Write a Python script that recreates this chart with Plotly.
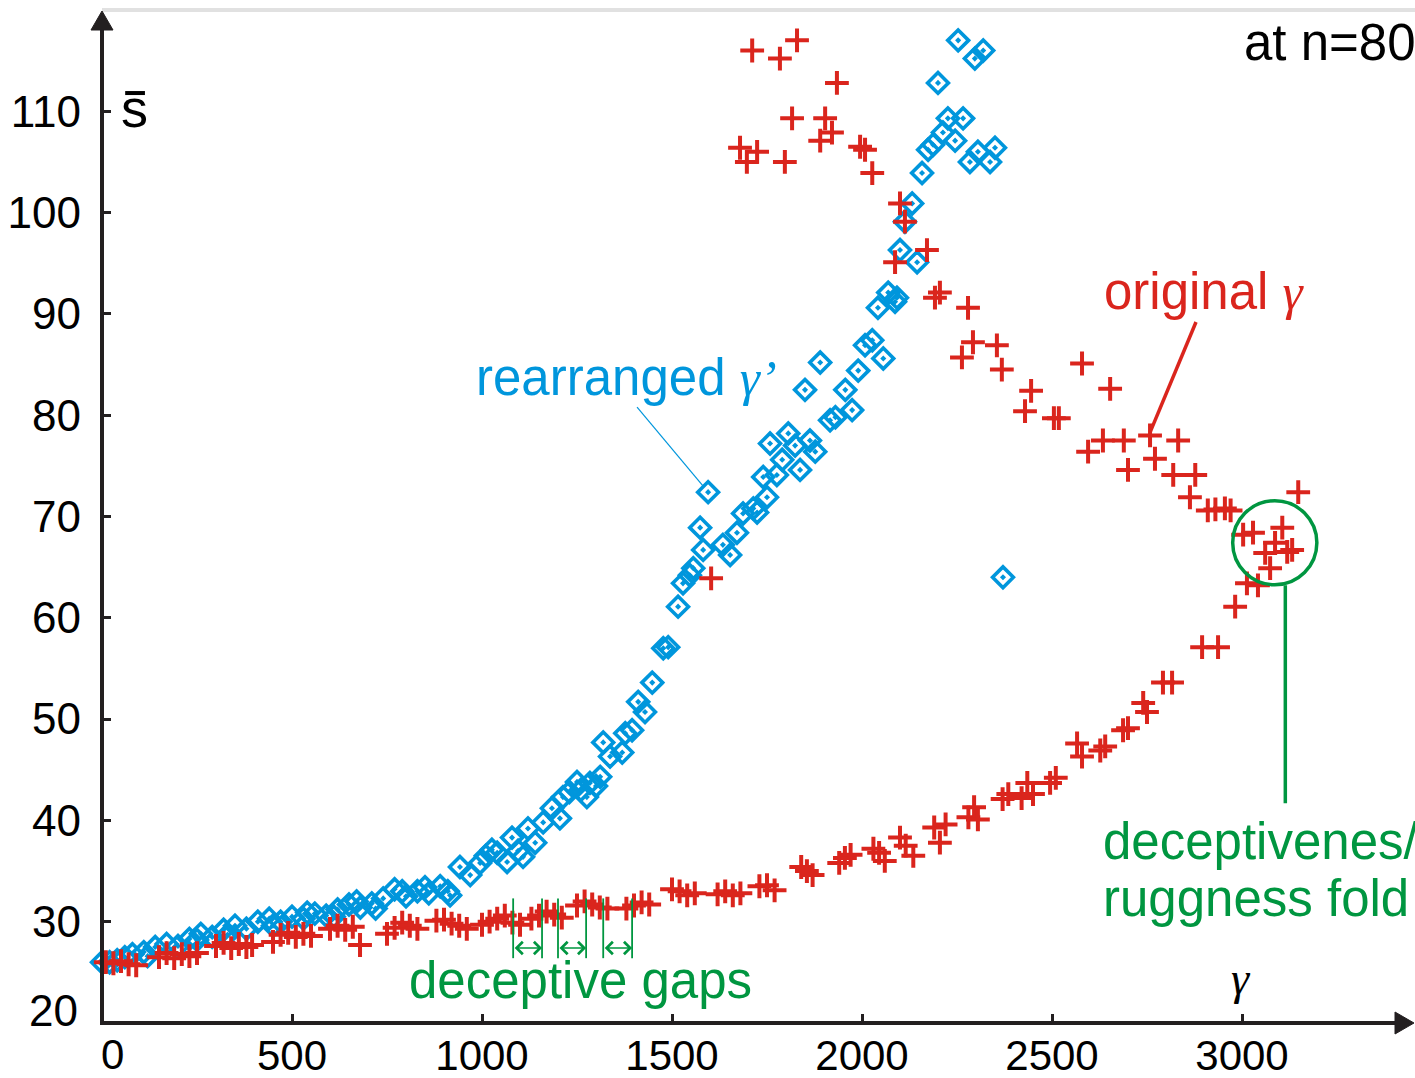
import plotly.graph_objects as go

# ---------------- data ----------------
blue_x = [0, 20, 40, 60, 80, 110, 120, 140, 170, 200, 230, 250, 260, 290, 320, 330, 350, 380, 410, 440, 450,
          470, 500, 530, 540, 560, 590, 610, 620, 650, 670, 680, 710, 720, 740, 770, 790, 800, 830, 850, 860,
          890, 910,
          916, 942, 969, 995, 1010, 1026, 1040, 1066, 1079, 1095, 1108, 1121, 1140, 1161, 1184, 1205, 1213,
          1230, 1250, 1260, 1276, 1284, 1300, 1311, 1319, 1337, 1369, 1377, 1395, 1411, 1429, 1448, 1477, 1490,
          1516, 1529, 1547, 1556, 1574, 1582, 1595, 1634, 1653, 1671, 1687, 1714, 1724, 1740, 1750, 1758,
          1776, 1790, 1806, 1824, 1837, 1850, 1863, 1877, 1890, 1916, 1930, 1956, 1974, 1990, 2008, 2027,
          2042, 2056, 2069, 2087, 2092, 2100, 2113, 2132, 2145, 2158, 2174, 2187, 2200, 2213, 2226, 2245,
          2253, 2266, 2284, 2297, 2305, 2319, 2337, 2350, 2371]
blue_y = [26.0, 26.0, 26.2, 26.5, 26.8, 27.0, 26.6, 27.5, 27.8, 27.6, 28.3, 28.2, 28.8, 28.5, 29.2, 28.7, 29.6, 29.3, 30.0, 30.3, 29.6,
          30.0, 30.5, 30.3, 30.9, 30.8, 30.6, 30.5, 31.2, 31.7, 32.0, 31.4, 31.8, 31.3, 32.3, 33.2, 33.0, 32.5, 33.0, 33.4, 32.8,
          33.5, 33.0,
          32.6, 35.4, 34.6, 35.8, 36.5, 37.1, 36.8, 35.9, 38.3, 37.0, 36.4, 39.2, 37.8, 39.8, 41.2, 40.2, 42.3,
          42.8, 43.8, 43.0, 42.3, 43.7, 43.4, 44.3, 47.7, 46.3, 46.7, 48.6, 48.9, 51.7, 50.7, 53.6, 57.0, 57.1,
          61.1, 63.4, 64.2, 64.9, 68.9, 66.7, 72.4, 67.2, 66.2, 68.4, 70.3, 70.8, 70.4, 73.9, 71.9, 77.2,
          74.1, 75.6, 78.2, 77.0, 74.6, 82.5, 77.5, 76.4, 85.2, 79.5, 79.8, 82.5, 80.5, 84.4, 86.9, 87.4,
          90.6, 85.6, 92.1, 91.2, 91.6, 96.3, 99.1, 100.9, 95.1, 103.9, 106.2, 106.7, 112.8, 107.9, 109.3, 107.1,
          117.0, 109.3, 105.0, 115.2, 106.0, 116.0, 105.0, 106.4, 64.0]

red_x = [10, 30, 50, 70, 90,
         150, 170, 190, 210, 230, 250,
         300, 320, 340, 360, 380, 395,
         450, 470, 490, 510, 530, 550,
         600, 620, 640, 660, 679,
         750, 770, 790, 810, 830,
         880, 900, 920, 940, 960,
         1000, 1020, 1040, 1060, 1080, 1100,
         1130, 1150, 1170, 1190, 1210,
         1250, 1270, 1290, 1310, 1330,
         1380, 1400, 1420, 1440,
         1500, 1520, 1540, 1560,
         1620, 1640, 1660, 1680,
         1730, 1750, 1770,
         1840, 1855, 1870,
         1940, 1955, 1970,
         2030, 2045, 2060,
         2100, 2115, 2135,
         2190, 2205, 2220,
         2280, 2295, 2305,
         2370, 2385,
         2420, 2435, 2450,
         2495, 2510,
         2566, 2579, 2627, 2640,
         2687, 2700,
         2740, 2750,
         2792, 2816,
         2895, 2937,
         2982,
         3013, 3042,
         3074,
         3061, 3087, 3119, 3132,
         3106,
         3003, 3029,
         3148,
         2910, 2930, 2955, 2970,
         2863, 2877, 2819,
         2832, 2771, 2758, 2700, 2689, 2653, 2634, 2595, 2579, 2505, 2518, 2429, 2445, 2368, 2355, 2263,
         2292, 2279, 2192, 2205, 2171, 2087, 2113, 2100, 2027, 1995, 2008, 1679, 1724, 1697, 1797, 1890,
         1921, 1816, 1903, 1934, 1711, 1784, 1829, 1603]
red_y = [26.0, 25.9, 26.1, 25.8, 25.7,
         26.5, 26.9, 26.4, 26.8, 26.6, 26.9,
         27.6, 27.9, 27.4, 27.8, 27.5, 27.7,
         28.0, 28.7, 28.9, 28.5, 28.8, 28.6,
         29.3, 29.6, 29.2, 29.5, 27.7,
         28.8, 29.4, 29.9, 29.6, 29.3,
         30.1, 30.2, 29.8, 29.6, 29.3,
         29.7, 30.0, 30.3, 30.6, 29.9, 29.7,
         30.3, 30.6, 31.0, 30.7, 30.4,
         31.6, 32.0, 31.7, 31.4, 31.3,
         31.3, 31.6, 31.9, 31.7,
         33.2, 33.0, 32.6, 32.8,
         32.7, 33.0, 32.6, 32.8,
         33.5, 33.6, 33.1,
         35.4, 35.0, 34.6,
         35.8, 36.3, 36.6,
         37.2, 36.8, 36.0,
         38.3, 37.5, 36.5,
         39.3, 37.8, 39.6,
         40.3, 41.3, 40.1,
         42.1, 42.6,
         42.2, 43.7, 42.6,
         43.7, 44.2,
         47.6, 46.3, 46.9, 47.3,
         48.9, 49.1,
         51.6, 50.7,
         53.6, 53.6,
         57.1, 57.1,
         61.1,
         63.4, 63.2,
         64.9,
         66.4, 67.4, 66.5, 66.7,
         68.9,
         68.2, 68.4,
         72.4,
         70.6, 70.7, 70.8, 70.6,
         71.9, 74.1, 74.1,
         77.5, 75.7, 78.0, 74.6, 77.5, 82.6, 77.5, 76.4, 85.1, 79.7, 79.7, 80.4, 82.4, 84.5, 86.9, 85.7,
         87.2, 90.6, 91.6, 92.1, 96.3, 95.1, 99.1, 100.9, 103.9, 106.5, 106.2, 106.4, 106.0, 105.0, 105.0, 107.1,
         107.9, 109.3, 109.3, 112.8, 116.0, 115.2, 117.0, 63.9]

y_ticks = [30, 40, 50, 60, 70, 80, 90, 100, 110]
x_ticks = [500, 1000, 1500, 2000, 2500, 3000]
gap_edges = [1082, 1158, 1200, 1274, 1319, 1395]

BLUE = "#0096dc"
RED = "#da251d"
GREEN = "#009640"
BLACK = "#231f20"
SANS = "Liberation Sans, Arial, sans-serif"
SERIF = "Liberation Serif, Times New Roman, serif"

X_MAX = 3450
Y_MIN, Y_MAX = 20, 119.8

fig = go.Figure()
fig.add_trace(go.Scatter(
    x=blue_x, y=blue_y, mode="markers", cliponaxis=False,
    marker=dict(symbol="diamond-open-dot", size=16, color=BLUE, line=dict(width=3.6, color=BLUE)),
    showlegend=False))
fig.add_trace(go.Scatter(
    x=red_x, y=red_y, mode="markers", cliponaxis=False,
    marker=dict(symbol="cross-thin", size=17, color=RED, line=dict(width=4, color=RED)),
    showlegend=False))

shapes = []
# top light border
shapes.append(dict(type="line", xref="paper", yref="paper", x0=0.0, x1=1.01, y0=1.002, y1=1.002,
                   line=dict(color="#e1e1e1", width=4), layer="below"))
# axes (paper refs so they are not clipped)
shapes.append(dict(type="line", xref="paper", yref="paper", x0=-0.0015, x1=0.995, y0=0, y1=0,
                   line=dict(color=BLACK, width=4)))
shapes.append(dict(type="line", xref="paper", yref="paper", x0=0, x1=0, y0=-0.002, y1=0.985,
                   line=dict(color=BLACK, width=4)))
# arrow heads
shapes.append(dict(type="path", xref="paper", yref="paper", xsizemode="pixel", ysizemode="pixel",
                   xanchor=0, yanchor=1, path="M 0 1 L -11 -18 L 11 -18 Z",
                   fillcolor=BLACK, line=dict(color=BLACK, width=1)))
shapes.append(dict(type="path", xref="paper", yref="paper", xsizemode="pixel", ysizemode="pixel",
                   xanchor=1, yanchor=0, path="M 1 0 L -18 -11 L -18 11 Z",
                   fillcolor=BLACK, line=dict(color=BLACK, width=1)))
# overbar of the s-bar axis label
shapes.append(dict(type="line", xref="x", yref="y", x0=61, x1=113, y0=111.8, y1=111.8,
                   line=dict(color="black", width=4)))
# green circle and its leader
shapes.append(dict(type="circle", xref="x", yref="y", x0=2975.5, x1=3197, y0=63.25, y1=71.55,
                   line=dict(color=GREEN, width=3.5)))
shapes.append(dict(type="line", xref="x", yref="y", x0=3114, x1=3114, y0=63.2, y1=41.7,
                   line=dict(color=GREEN, width=3.5)))
# leader lines
shapes.append(dict(type="line", xref="x", yref="y", x0=1408, y0=80.8, x1=1582, y1=73.0,
                   line=dict(color=BLUE, width=1.2)))
shapes.append(dict(type="line", xref="x", yref="y", x0=2879, y0=89.2, x1=2758, y1=78.3,
                   line=dict(color=RED, width=3.5)))
# deceptive gap verticals
for gx in gap_edges:
    shapes.append(dict(type="line", xref="x", yref="y", x0=gx, x1=gx, y0=26.4, y1=32.3,
                       line=dict(color=GREEN, width=1.8)))

annotations = []
# double-headed gap arrows
for i in range(0, len(gap_edges), 2):
    annotations.append(dict(x=gap_edges[i + 1], y=27.4, ax=gap_edges[i], ay=27.4, xref="x", yref="y",
                            axref="x", ayref="y", text="", showarrow=True, arrowside="end+start",
                            arrowhead=4, arrowsize=1.6, arrowwidth=1.5, arrowcolor=GREEN))

g_sp = lambda t: f"<span style='font-family:{SERIF}'><i>{t}</i></span>"
ANN = 51

annotations += [
    dict(x=1379, y=83.7, xref="x", yref="y", text="rearranged " + g_sp("γ’"), showarrow=False,
         font=dict(family=SANS, size=ANN, color=BLUE)),
    dict(x=2900, y=92.2, xref="x", yref="y", text="original " + g_sp("γ"), showarrow=False,
         font=dict(family=SANS, size=ANN, color=RED)),
    dict(x=2630, y=37.9, xref="x", yref="y", text="deceptivenes/", showarrow=False, xanchor="left",
         font=dict(family=SANS, size=ANN, color=GREEN)),
    dict(x=2630, y=32.3, xref="x", yref="y", text="ruggness fold", showarrow=False, xanchor="left",
         font=dict(family=SANS, size=ANN, color=GREEN)),
    dict(x=1258, y=24.2, xref="x", yref="y", text="deceptive gaps", showarrow=False,
         font=dict(family=SANS, size=ANN, color=GREEN)),
    dict(x=2998, y=24.4, xref="x", yref="y", text=g_sp("γ"), showarrow=False,
         font=dict(family=SERIF, size=46, color="black")),
    dict(x=1.004, y=0.970, xref="paper", yref="paper", text="at n=80", showarrow=False,
         xanchor="right", yanchor="middle", font=dict(family=SANS, size=ANN, color="black")),
    dict(x=86, y=110.3, xref="x", yref="y", text="s", showarrow=False,
         font=dict(family=SANS, size=54, color="black")),
    # corner tick labels
    dict(x=0, y=Y_MIN, xref="x", yref="y", text="20", showarrow=False, xanchor="right", yanchor="middle",
         xshift=-22, yshift=13, font=dict(family=SANS, size=44, color="black")),
    dict(x=0, y=Y_MIN, xref="x", yref="y", text="0", showarrow=False, yanchor="middle",
         xshift=10, yshift=-31, font=dict(family=SANS, size=42, color="black")),
]

fig.update_layout(
    width=1415, height=1078,
    margin=dict(l=102, r=2, t=12, b=55, autoexpand=False),
    paper_bgcolor="white", plot_bgcolor="white",
    shapes=shapes, annotations=annotations,
    xaxis=dict(range=[0, X_MAX], showgrid=False, zeroline=False, showline=False, automargin=False,
               tickmode="array", tickvals=x_ticks, ticktext=[str(v) for v in x_ticks],
               ticks="inside", ticklen=9, tickwidth=3, tickcolor=BLACK, ticklabelstandoff=4,
               tickfont=dict(family=SANS, size=42, color="black")),
    yaxis=dict(range=[Y_MIN, Y_MAX], showgrid=False, zeroline=False, showline=False, automargin=False,
               tickmode="array", tickvals=y_ticks, ticktext=[str(v) for v in y_ticks],
               ticks="inside", ticklen=9, tickwidth=3, tickcolor=BLACK, ticklabelstandoff=20,
               tickfont=dict(family=SANS, size=44, color="black")),
)

fig.write_html("out.html")
